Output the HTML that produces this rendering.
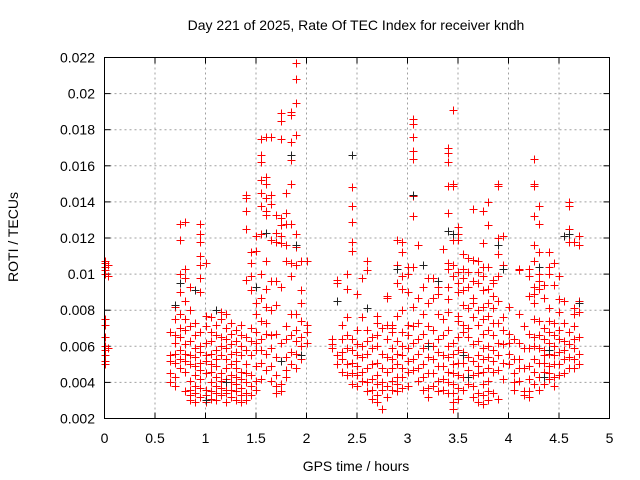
<!DOCTYPE html>
<html><head><meta charset="utf-8"><style>
html,body{margin:0;padding:0;background:#fff}
svg{display:block;font-family:"Liberation Sans",sans-serif}
</style></head><body>
<svg id="chart" width="640" height="480" viewBox="0 0 640 480" xmlns="http://www.w3.org/2000/svg">
<rect x="0" y="0" width="640" height="480" fill="#fff"/>
<text x="356" y="30" font-size="14" text-anchor="middle">Day 221 of 2025, Rate Of TEC Index for receiver kndh</text>
<text x="356" y="471" font-size="14" text-anchor="middle">GPS time / hours</text>
<text x="0" y="0" font-size="14" text-anchor="middle" transform="translate(18,237) rotate(-90)">ROTI / TECUs</text>
<g id="grid"></g><g id="axes"></g><g id="marks"></g>
<rect x="104.5" y="57.5" width="505" height="361" fill="none" stroke="#000" stroke-width="1"/>
</svg>
<script>
const xTicks = [0,0.5,1,1.5,2,2.5,3,3.5,4,4.5,5];
const xTickLabels = ["0","0.5","1","1.5","2","2.5","3","3.5","4","4.5","5"];
const yTicks = [0.002,0.004,0.006,0.008,0.01,0.012,0.014,0.016,0.018,0.02,0.022];
const yTickLabels = ["0.002","0.004","0.006","0.008","0.01","0.012","0.014","0.016","0.018","0.02","0.022"];
const binTimes = [0,0.03,0.65,0.7,0.75,0.8,0.85,0.9,0.95,1.0,1.05,1.1,1.15,1.2,1.25,1.3,1.35,1.4,1.45,1.5,1.55,1.6,1.65,1.7,1.75,1.8,1.85,1.9,1.95,2.0,2.25,2.3,2.35,2.4,2.45,2.5,2.55,2.6,2.65,2.7,2.75,2.8,2.85,2.9,2.95,3.0,3.05,3.1,3.15,3.2,3.25,3.3,3.35,3.4,3.45,3.5,3.55,3.6,3.65,3.7,3.75,3.8,3.85,3.9,3.95,4.0,4.05,4.1,4.15,4.2,4.25,4.3,4.35,4.4,4.45,4.5,4.55,4.6,4.65,4.7];
const binRotiMilli = [
[10.6,10.4,10.0,7.5,7.2,6.5,6.0,5.8,5.5,5.2,5.0,10.7,10.2],[10.5,9.9,5.9],
[4.0,4.5,5.2,5.5,6.8],[3.8,4.3,5.1,5.6,6.2,6.6,7.5,8.2],
[4.8,5.3,5.8,6.5,7.0,7.8,9.0,10.0,11.9,12.8],[3.5,4.6,5.2,5.6,6.1,6.9,7.5,8.5,9.8,10.3,12.9],
[3.0,3.3,3.6,4.1,5.0,5.5,6.3,7.1,8.0,9.3],[2.9,3.4,3.8,4.4,4.9,5.4,5.9,6.6,7.3],
[3.2,3.7,4.2,4.7,5.1,5.7,6.0,6.8,9.0,9.8,10.5,11.0,11.8,12.2,12.8],[2.9,3.3,3.6,4.5,5.2,5.5,6.2,7.1,7.7,10.6],
[3.1,3.5,4.0,4.6,5.0,5.6,6.3,6.8,7.6],[3.0,3.4,3.8,4.3,4.9,5.3,5.8,6.6,7.2,8.0],
[3.3,3.7,4.1,4.5,5.5,6.0,6.5,7.5,7.9],[2.9,3.4,3.6,4.2,4.8,5.3,5.9,6.4,7.0,7.8],
[3.2,3.6,4.0,4.4,5.0,5.6,6.1,6.7,7.3],[3.0,3.5,3.9,4.3,4.8,5.2,5.7,6.3,6.9],
[2.9,3.3,3.7,4.2,4.6,5.5,6.0,6.6,7.2],[3.0,3.4,4.0,4.5,5.0,5.8,6.5,9.7,12.5,13.5,14.2,14.4],
[3.3,3.8,4.4,5.5,6.3,7.0,9.1,9.9,10.6,11.2],[3.6,4.1,4.9,5.8,6.2,6.8,7.8,8.4,11.3,12.1],
[4.2,5.1,5.8,6.4,7.4,8.7,10.0,12.2,13.8,14.5,15.2,16.2,16.6,17.5],[4.7,5.6,6.7,7.3,8.2,9.2,10.7,13.3,13.5,14.2,15.0,15.4,17.6],
[4.1,4.9,5.9,6.6,8.0,9.6,11.9,13.9,14.4,17.6],[3.4,3.8,4.4,5.4,6.7,8.3,9.6,11.8,12.3,13.3],
[3.5,3.9,5.2,6.2,9.3,11.7,12.1,12.7,13.1,17.5,18.5,18.9],[4.3,4.7,5.4,6.4,7.1,10.7,11.6,12.8,13.4,14.5],
[5.0,5.7,6.6,7.8,9.9,10.6,12.8,15.0,16.3,17.3,18.8,19.0],[4.8,5.6,6.3,6.9,7.8,10.5,11.5,12.2,17.7,19.5,20.8,21.7],
[5.3,6.0,6.5,7.4,8.4,9.1,10.7],[6.2,6.8,7.2,10.7],
[6.4,6.1,5.9],[5.0,5.5,8.5,9.5,9.7],[4.6,5.3,5.7,6.4,7.2],[4.4,5.0,5.9,6.6,7.6,9.2,10.0],
[3.9,4.5,5.1,5.8,6.4,11.3,11.8,12.9,13.8,14.8],[3.8,4.4,4.9,5.5,6.1,6.9,8.9],
[4.1,4.6,5.4,6.0,7.6,9.8],[3.5,4.0,4.8,5.6,6.3,6.9,10.2,10.7],
[3.1,3.6,4.2,5.0,5.9,6.5],[2.9,3.3,3.9,4.4,5.1,6.0,6.6,7.3,7.7],
[2.5,3.6,4.0,4.8,5.6,7.0],[3.2,3.8,4.6,5.4,6.4,7.2,8.7,8.8],
[3.6,4.1,4.8,5.3,5.9,6.8,7.0,7.2],[3.5,3.9,4.3,5.0,5.6,6.3,7.7,9.5,10.5,11.9],
[3.7,4.3,4.8,5.5,6.0,6.8,8.0,9.2,9.9,11.2,11.8],[3.8,4.6,5.2,5.9,6.6,7.2,9.0,10.0,10.4],
[4.7,5.3,6.2,7.1,8.2,10.4,13.2,14.3,16.4,16.8,17.6,18.3,18.6],[4.1,4.8,5.6,6.4,7.3,8.7,11.6],
[3.6,4.3,5.0,5.9,6.7,7.8,9.3],[3.2,3.7,4.5,5.4,6.2,7.1,8.4,9.8],
[3.8,4.5,5.3,6.0,6.9,8.7,9.8],[3.5,4.1,4.9,5.7,6.4,7.8,8.9,9.3],
[3.6,4.2,4.9,5.5,6.6,7.5,11.4],[3.4,4.0,4.6,5.4,6.0,6.9,7.9,8.6,9.3,10.3,10.6,12.4,13.4,14.9,16.2,16.7,17.0],
[2.5,2.9,3.4,3.9,4.5,5.0,5.6,6.2,9.9,10.5,11.9,14.9,15.0,19.1],[3.1,3.7,4.4,5.1,5.8,6.5,7.4,7.7,9.0,9.5,10.1,11.9,12.2,12.6],
[3.6,4.3,5.1,5.7,6.8,7.2,8.3,9.1,9.8,10.3,11.1],[3.9,4.7,5.4,6.5,7.0,8.1,9.3,10.1,10.9],
[3.2,3.8,4.4,5.2,6.1,7.6,8.4,8.7,9.6,10.8,13.6],[2.9,3.4,4.5,4.9,5.5,6.3,7.2,8.0,9.5,10.1,10.7],
[2.8,3.3,3.9,4.6,5.3,5.9,6.7,7.5,8.2,9.1,9.9,10.4,11.7,13.5],[3.0,3.5,4.1,4.8,5.4,6.0,6.9,7.7,8.4,9.2,10.4,12.7,14.0],
[3.4,4.6,5.2,5.8,6.6,7.3,8.1,8.8,9.5,9.7],[3.1,4.7,5.5,6.2,7.3,8.5,9.9,11.1,12.0,14.9,15.0],
[4.2,5.1,6.1,6.9,7.6,10.5,12.1],[5.0,5.6,6.2,6.7,8.2],[3.6,4.0,4.5,5.3,6.4],
[4.1,4.8,5.3,6.2,7.8,10.2,10.3],[3.3,3.5,4.8,5.9,7.1],[3.2,3.5,4.2,4.9,5.9,6.7,8.8,9.9,10.3],
[3.9,4.6,5.3,6.0,6.5,7.5,8.4,8.9,9.3,10.7,11.6,13.2,14.9,15.0,16.4],[3.6,4.3,5.1,5.9,6.6,7.4,9.2,9.6,10.0,11.2,12.8,13.8],
[3.9,4.6,5.1,5.5,5.8,6.4,7.0,8.7,9.4],[4.2,4.5,4.9,5.6,6.2,6.8,7.4,8.1,10.0,10.4,11.2],
[3.8,4.3,5.0,5.5,6.0,6.6,7.3,9.4,10.6],[4.4,5.0,5.7,6.4,6.9,7.9,8.6,9.9],
[4.5,5.3,5.8,6.3,7.3,8.5],[4.8,5.4,6.1,6.8,11.8,12.5,13.8,14.0],
[4.8,5.3,5.9,6.4,7.1,7.8,8.1,11.8],[5.0,5.6,6.5,7.9,8.5,11.6,12.1]
];
const blackTimes = [0.7,0.75,0.9,1.0,1.1,1.2,1.5,1.6,1.75,1.85,1.9,1.95,2.3,2.45,2.6,2.9,3.05,3.15,3.3,3.4,3.45,3.55,3.6,3.9,3.95,4.3,4.35,4.4,4.6,4.7,4.55,3.2];
const blackRotiMilli = [8.3,9.5,9.1,3.0,8.0,4.0,9.3,12.3,5.2,16.6,11.6,5.5,8.5,16.6,8.1,10.3,14.4,10.5,9.6,12.4,12.2,5.5,4.3,11.6,10.3,10.4,4.3,5.8,12.2,8.4,12.1,6.0];

const NS = "http://www.w3.org/2000/svg";
const L=104.5,R=609.5,T=57.5,B=418.5;
function xScale(h){return L+(h-0)/(5-0)*(R-L);}
function yScale(v){return B-(v-0.002)/(0.022-0.002)*(B-T);}
function mk(tag,attrs,parent){const e=document.createElementNS(NS,tag);for(const k in attrs)e.setAttribute(k,attrs[k]);parent.appendChild(e);return e;}
const grid=document.getElementById('grid'),axes=document.getElementById('axes'),marks=document.getElementById('marks');
xTicks.forEach((t,i)=>{
  const x=xScale(t);
  if(i>0&&i<xTicks.length-1){const g=mk('line',{x1:x,x2:x,y1:T,y2:B,stroke:'#a0a0a0','stroke-dasharray':'2,3'},grid);
  
  }
  mk('line',{x1:x,x2:x,y1:B,y2:B-6,stroke:'#000'},axes);
  mk('line',{x1:x,x2:x,y1:T,y2:T+6,stroke:'#000'},axes);
  const tx=mk('text',{x:x,y:443,'font-size':14,'text-anchor':'middle'},axes);tx.textContent=xTickLabels[i];
  
  
});
yTicks.forEach((t,i)=>{
  const y=yScale(t);
  if(i>0&&i<yTicks.length-1){const g=mk('line',{x1:L,x2:R,y1:y,y2:y,stroke:'#a0a0a0','stroke-dasharray':'2,3'},grid);
  
  }
  mk('line',{x1:L,x2:L+6,y1:y,y2:y,stroke:'#000'},axes);
  mk('line',{x1:R,x2:R-6,y1:y,y2:y,stroke:'#000'},axes);
  const tx=mk('text',{x:95,y:y+5,'font-size':14,'text-anchor':'end'},axes);tx.textContent=yTickLabels[i];
  
  
});
function plus(h,v,color,name){
  const x=Math.round(xScale(h))+0.5,y=Math.round(yScale(v))+0.5;
  const p=mk('path',{d:`M${x-4} ${y}H${x+4}M${x} ${y-4}V${y+4}`,stroke:color,'stroke-width':1,fill:'none'},marks);
  
  
}
binTimes.forEach((h,i)=>{binRotiMilli[i].forEach(v=>plus(h,v/1000,'#ff0000','roti-point-red'));});
blackTimes.forEach((h,i)=>plus(h,blackRotiMilli[i]/1000,'#222222','roti-point-black'));
</script>
</body></html>
